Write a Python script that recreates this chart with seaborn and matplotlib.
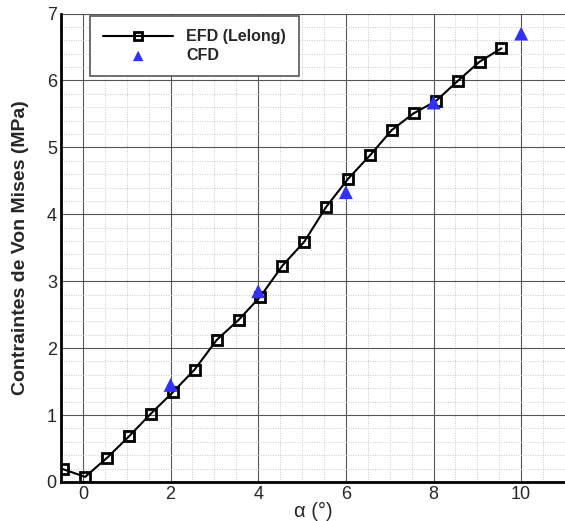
import numpy as np
import matplotlib
matplotlib.use("Agg")
import matplotlib.pyplot as plt
from matplotlib.ticker import MultipleLocator
import seaborn as sns
import pandas as pd

# EFD (Lelong) measurements
efd_alpha = [-0.45, 0.05, 0.55, 1.05, 1.55, 2.05, 2.55, 3.05, 3.55, 4.05, 4.55,
             5.05, 5.55, 6.05, 6.55, 7.05, 7.55, 8.05, 8.55, 9.05, 9.55]
efd_stress = [0.19, 0.075, 0.36, 0.68, 1.02, 1.34, 1.68, 2.12, 2.42, 2.77, 3.23,
              3.59, 4.11, 4.53, 4.88, 5.26, 5.51, 5.69, 5.99, 6.28, 6.48]

# CFD results
cfd_alpha = [2, 4, 6, 8, 10]
cfd_stress = [1.45, 2.85, 4.33, 5.67, 6.70]

df_efd = pd.DataFrame({"alpha": efd_alpha, "stress": efd_stress})
df_cfd = pd.DataFrame({"alpha": cfd_alpha, "stress": cfd_stress})

sns.set_theme(style="white")
plt.rcParams["font.family"] = ["Liberation Sans", "DejaVu Sans"]

fig = plt.figure(figsize=(5.65, 5.21), dpi=100)
ax = fig.add_axes([0.108, 0.075, 0.892, 0.899])

sns.lineplot(x="alpha", y="stress", data=df_efd, ax=ax, color="black", lw=1.5,
             marker="s", markersize=7, markerfacecolor="none",
             markeredgecolor="black", markeredgewidth=2,
             label="EFD (Lelong)", zorder=4)
sns.scatterplot(x="alpha", y="stress", data=df_cfd, ax=ax, color="#3030ff",
                marker="^", s=100, edgecolor="none", label="CFD", zorder=5)

ax.set_xlim(-0.5, 11)
ax.set_ylim(0, 7)
ax.xaxis.set_major_locator(MultipleLocator(2))
ax.xaxis.set_minor_locator(MultipleLocator(0.5))
ax.yaxis.set_major_locator(MultipleLocator(1))
ax.yaxis.set_minor_locator(MultipleLocator(0.2))

ax.grid(which="major", color="#555555", lw=0.8, ls="-")
ax.grid(which="minor", color="#c8c8c8", lw=0.7, ls=(0, (1, 1.5)))
ax.set_axisbelow(True)

for s in ["top", "right"]:
    ax.spines[s].set_visible(False)
for s in ["left", "bottom"]:
    ax.spines[s].set_color("black")
    ax.spines[s].set_linewidth(2)

ax.tick_params(which="major", direction="in", length=9, width=2, color="black",
               labelsize=13, pad=3)
ax.tick_params(which="minor", direction="in", length=5, width=1, color="black")

ax.set_xlabel("α (°)", fontsize=14.5, labelpad=-1)
ax.set_ylabel("Contraintes de Von Mises (MPa)", fontsize=14, fontweight="bold",
              labelpad=13)

leg = ax.legend(loc="upper left", bbox_to_anchor=(0.058, 0.994),
                borderaxespad=0, prop={"weight": "bold", "size": 11.5},
                fancybox=False, framealpha=1, edgecolor="#555555",
                handlelength=4.4, handletextpad=0.8, markerscale=0.75,
                borderpad=0.8, labelspacing=0.25)
leg.get_frame().set_linewidth(1.2)

fig.savefig("out.png", dpi=100)
